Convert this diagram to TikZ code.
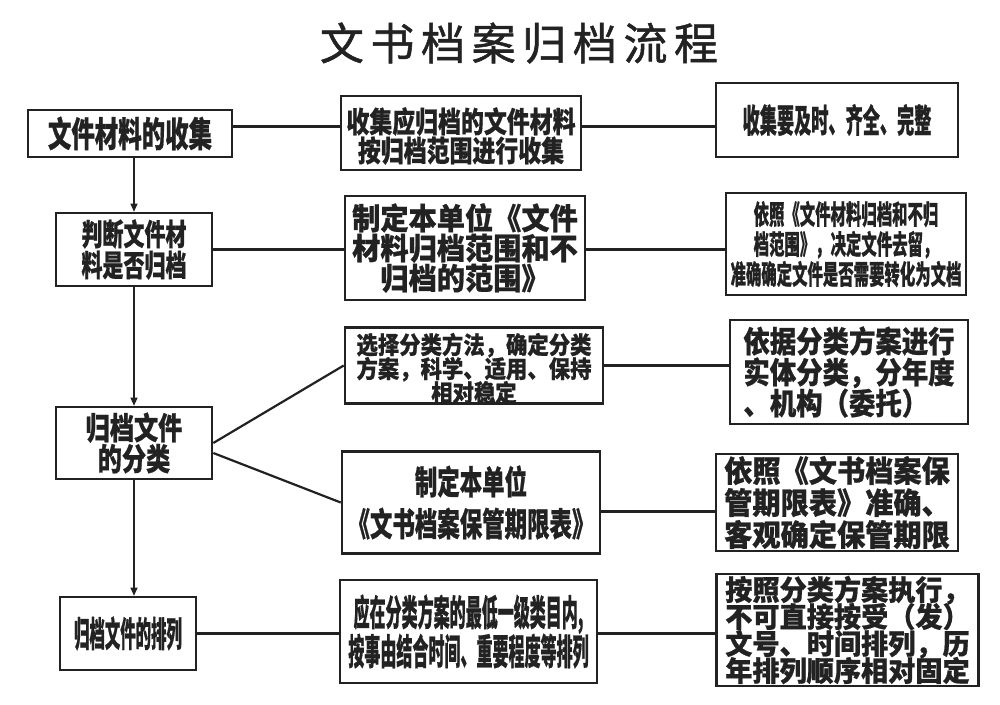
\documentclass[tikz,border=0pt]{standalone}
\usepackage{fontspec}
\setmainfont{Noto Sans CJK SC}
\usepackage{graphicx}
\usetikzlibrary{arrows.meta}
% centered / left-aligned line stacks at a fixed line pitch
\newcommand\bxc[4]{{\fontsize{#1}{#2}\selectfont\scalebox{#3}[1]{\vbox{\lineskiplimit=-\maxdimen\lineskip=0pt\halign{\hfil##\hfil\cr#4\crcr}}}}}
\newcommand\bxl[4]{{\fontsize{#1}{#2}\selectfont\scalebox{#3}[1]{\vbox{\lineskiplimit=-\maxdimen\lineskip=0pt\halign{##\hfil\cr#4\crcr}}}}}
\definecolor{ink}{HTML}{222222}
\tikzset{
  box/.style={draw=ink, line width=2.6pt, rectangle, inner sep=0pt, text=ink, font={\bfseries\addfontfeature{FakeBold=0.8}}},
  link/.style={draw=ink, line width=2.2pt},
  flow/.style={draw=ink, line width=1.2pt, -{Triangle[length=8pt,width=7pt]}}
}
\begin{document}
\begin{tikzpicture}[x=1pt,y=-1pt]
\useasboundingbox[fill=white] (0,0) rectangle (1000,704);
% title
\node[text=ink, font={\fontsize{44}{50}\selectfont\addfontfeature{LetterSpace=15,FakeBold=1.2}}] (title) at (519,43) {文书档案归档流程};
% left column
\node[box, minimum width=204pt, minimum height=47pt] (L1) at (130,133.5) {\bxc{35}{35}{0.67}{文件材料的收集}};
\node[box, minimum width=156pt, minimum height=73pt] (L2) at (134,249.5) {\bxc{30}{31}{0.7}{判断文件材\cr 料是否归档}};
\node[box, minimum width=156pt, minimum height=72pt] (L3) at (134,443) {\bxc{31}{31}{0.78}{归档文件\cr 的分类}};
\node[box, minimum width=136pt, minimum height=73pt] (L4) at (128,633.5) {\bxc{35}{35}{0.44}{归档文件的排列}\hspace{18pt}};
% middle column
\node[box, minimum width=240pt, minimum height=74pt] (M1) at (461,133) {\raisebox{-3pt}[\height][\depth]{\bxc{29}{29}{0.79}{收集应归档的文件材料\cr 按归档范围进行收集}}};
\node[box, minimum width=240pt, minimum height=104pt] (M2) at (465,248) {\bxc{30}{30}{0.94}{制定本单位《文件\cr 材料归档范围和不\cr 归档的范围》}};
\node[box, minimum width=258pt, minimum height=76pt] (M3a) at (474,365.5) {\raisebox{-3pt}[\height][\depth]{\bxc{24}{24}{0.89}{选择分类方法，确定分类\cr 方案，科学、适用、保持\cr 相对稳定}}};
\node[box, minimum width=258pt, minimum height=102pt] (M3b) at (471,502.5) {\bxc{33}{42}{0.68}{制定本单位\cr 《文书档案保管期限表》}};
\node[box, minimum width=257pt, minimum height=103pt] (M4) at (468.5,631.5) {\bxc{36}{39}{0.445}{应在分类方案的最低一级类目内,\cr 按事由结合时间、重要程度等排列}};
% right column
\node[box, minimum width=242pt, minimum height=74pt] (R1) at (837,120) {\bxc{33}{33}{0.52}{收集要及时、齐全、完整}};
\node[box, minimum width=240pt, minimum height=102pt] (R2) at (846,244) {\bxc{27}{30}{0.57}{依照《文件材料归档和不归\cr 档范围》，决定文件去留，\cr 准确确定文件是否需要转化为文档}};
\node[box, minimum width=238pt, minimum height=104pt] (R3a) at (849,372) {\bxl{30}{31}{0.88}{依据分类方案进行\cr 实体分类，分年度\cr 、机构（委托）}};
\node[box, minimum width=242pt, minimum height=97pt] (R3b) at (837,502.5) {\bxl{30}{32}{0.94}{依照《文书档案保\cr 管期限表》准确、\cr 客观确定保管期限}};
\node[box, minimum width=262pt, minimum height=112pt] (R4) at (847.5,630) {\bxc{28}{27}{0.97}{按照分类方案执行，\cr 不可直接按受（发）\cr 文号、时间排列，历\cr 年排列顺序相对固定}};
% vertical flow
\draw[flow] (L1.south -| L2.north) -- (L2.north);
\draw[flow] (L2.south) -- (L3.north);
\draw[flow] (L3.south) -- (L3.south |- L4.north);
% horizontal links
\coordinate (r1) at ([yshift=7pt]L1.east);
\draw[link] (r1) -- (r1 -| M1.west);
\draw[link] (r1 -| M1.east) -- (r1 -| R1.west);
\draw[link] (L2.east) -- (L2.east -| M2.west);
\draw[link] (L2.east -| M2.east) -- (L2.east -| R2.west);
\draw[link] (L3.east) -- (M3a.west);
\draw[link] ([yshift=-10pt]L3.east) -- (M3b.west);
\draw[link] (M3a.east) -- (M3a.east -| R3a.west);
\coordinate (r3b) at ([yshift=-9pt]M3b.east);
\draw[link] (r3b) -- (r3b -| R3b.west);
\draw[link] (L4.east) -- (L4.east -| M4.west);
\draw[link] (L4.east -| M4.east) -- (L4.east -| R4.west);
\end{tikzpicture}
\end{document}
